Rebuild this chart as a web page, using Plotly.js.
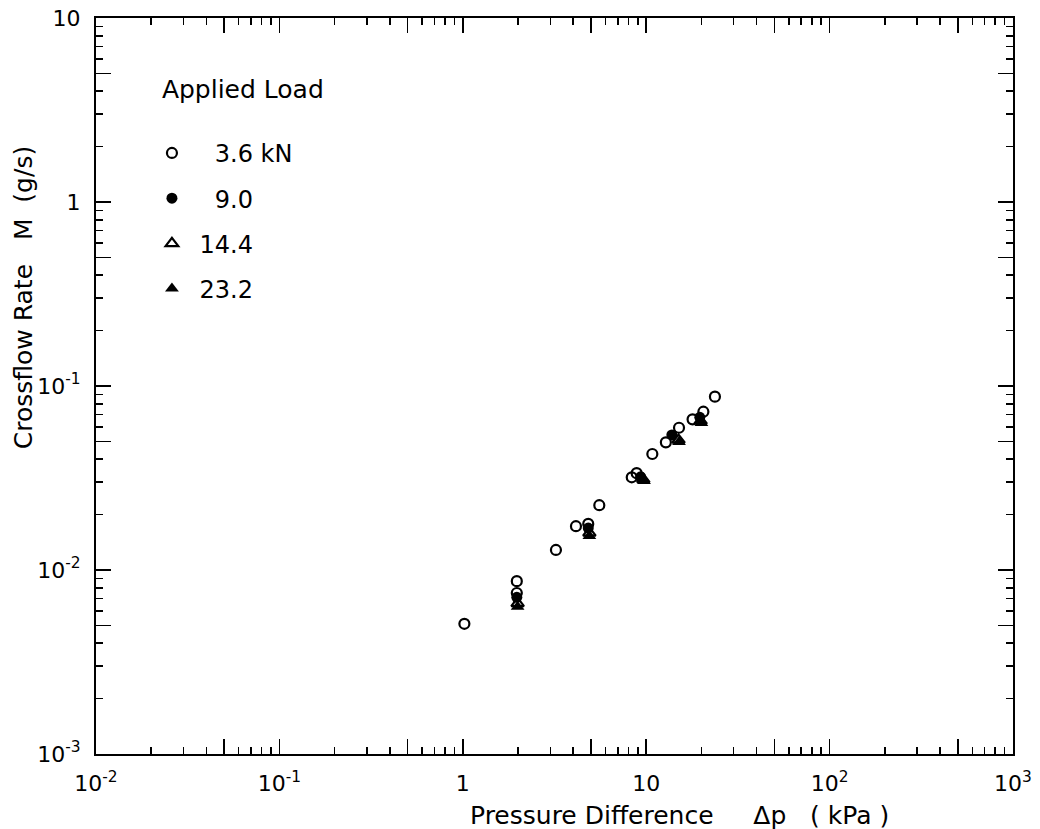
<!DOCTYPE html>
<html>
<head>
<meta charset="utf-8">
<script src="https://cdn.plot.ly/plotly-3.0.1.min.js"></script>
<style>
  html, body { margin: 0; padding: 0; background: #ffffff; }
  #chart { width: 1040px; height: 829px; }
</style>
</head>
<body>
<div id="chart"></div>
<script>
// ---- data (pressure difference in kPa, crossflow rate in g/s) ----
const load36Pressure = [1.02, 1.97, 1.97, 3.22, 4.14, 4.83, 5.55, 8.34, 8.87, 10.8, 12.8, 15.1, 17.9, 20.5, 23.7];
const load36Flow     = [0.0051, 0.0087, 0.0075, 0.01285, 0.0173, 0.0178, 0.0225, 0.0319, 0.0336, 0.0427, 0.0494, 0.0593, 0.0659, 0.0725, 0.0875];

const load90Pressure = [1.97, 4.83, 9.33, 13.8, 19.6];
const load90Flow     = [0.0071, 0.0169, 0.0321, 0.0542, 0.0676];

const load144Pressure = [1.99, 4.90, 9.64, 15.0, 19.8];
const load144Flow     = [0.00659, 0.0159, 0.0311, 0.0509, 0.0646];

const load232Pressure = [1.99, 4.90, 9.73, 15.1, 20.0];
const load232Flow     = [0.00632, 0.0153, 0.0305, 0.0496, 0.0629];

const seriesNames = ['\u00a0\u00a0\u00a03.6\u00a0kN', '\u00a0\u00a0\u00a09.0', '\u00a014.4', '\u00a023.2'];
const legendTitle = '\u00a0Applied Load';

const xTickVals = [0.01, 0.05, 0.1, 0.5, 1, 5, 10, 50, 100, 500, 1000];
const xTickText = ['10<sup>-2</sup>', '', '10<sup>-1</sup>', '', '1', '', '10', '', '10<sup>2</sup>', '', '10<sup>3</sup>'];
const yTickVals = [0.001, 0.005, 0.01, 0.05, 0.1, 0.5, 1, 5, 10];
const yTickText = ['10<sup>-3</sup>', '', '10<sup>-2</sup>', '', '10<sup>-1</sup>', '', '1', '', '10'];

const xTitle = 'Pressure Difference\u00a0\u00a0\u00a0\u00a0\u00a0\u0394p\u00a0\u00a0\u00a0(\u00a0kPa\u00a0)';
const yTitle = 'Crossflow Rate\u00a0\u00a0\u00a0M\u00a0\u00a0(g/s)';

const FONT = 'DejaVu Sans, Arial, sans-serif';

const traces = [
  { type: 'scatter', mode: 'markers', name: seriesNames[0], legendgroup: 'g1',
    x: load36Pressure, y: load36Flow,
    marker: { symbol: 'circle-open', size: 10, color: '#000', line: { width: 2.2, color: '#000' } } },
  { type: 'scatter', mode: 'markers', name: seriesNames[1], legendgroup: 'g2',
    x: load90Pressure, y: load90Flow,
    marker: { symbol: 'circle', size: 11, color: '#000', line: { width: 0 } } },
  { type: 'scatter', mode: 'markers', name: seriesNames[2], legendgroup: 'g3',
    x: load144Pressure, y: load144Flow,
    marker: { symbol: 'triangle-up-open', size: 11, color: '#000', line: { width: 2.2, color: '#000' } } },
  { type: 'scatter', mode: 'markers', name: seriesNames[3], legendgroup: 'g4',
    x: load232Pressure, y: load232Flow,
    marker: { symbol: 'triangle-up', size: 12, color: '#000', line: { width: 0 } } }
];

const axisCommon = {
  type: 'log',
  showgrid: false,
  zeroline: false,
  showline: true,
  linecolor: '#000',
  linewidth: 2,
  mirror: 'allticks',
  ticks: 'inside',
  ticklen: 15,
  tickwidth: 1.7,
  tickcolor: '#000',
  tickmode: 'array',
  tickfont: { family: FONT, size: 22, color: '#000' },
  minor: { ticks: 'inside', ticklen: 7, tickwidth: 1.5, tickcolor: '#000', dtick: 'D1', showgrid: false }
};

const layout = {
  width: 1040,
  height: 829,
  margin: { l: 96, r: 27, t: 18, b: 75, pad: 0 },
  paper_bgcolor: '#fff',
  plot_bgcolor: '#fff',
  font: { family: FONT, color: '#000' },
  showlegend: true,
  legend: {
    x: 0.061, xanchor: 'left',
    y: 0.935, yanchor: 'top',
    bgcolor: 'rgba(0,0,0,0)',
    borderwidth: 0,
    tracegroupgap: 11,
    font: { family: FONT, size: 24, color: '#000' },
    title: { text: legendTitle + '<br>\u00a0', font: { family: FONT, size: 25, color: '#000' } }
  },
  xaxis: Object.assign({}, axisCommon, {
    range: [-2, 3],
    tickvals: xTickVals,
    ticktext: xTickText,
    ticklabelstandoff: 9
  }),
  yaxis: Object.assign({}, axisCommon, {
    range: [-3, 1],
    tickvals: yTickVals,
    ticktext: yTickText,
    ticklabelstandoff: 9
  }),
  annotations: [
    { text: xTitle, xref: 'paper', yref: 'paper', x: 0.636, y: -0.083,
      xanchor: 'center', yanchor: 'middle', showarrow: false,
      font: { family: FONT, size: 25, color: '#000' } },
    { text: yTitle, xref: 'paper', yref: 'paper', x: -0.079, y: 0.62,
      xanchor: 'center', yanchor: 'middle', textangle: -90, showarrow: false,
      font: { family: FONT, size: 25, color: '#000' } }
  ]
};

Plotly.newPlot('chart', traces, layout, { staticPlot: true, displayModeBar: false });
</script>
</body>
</html>
